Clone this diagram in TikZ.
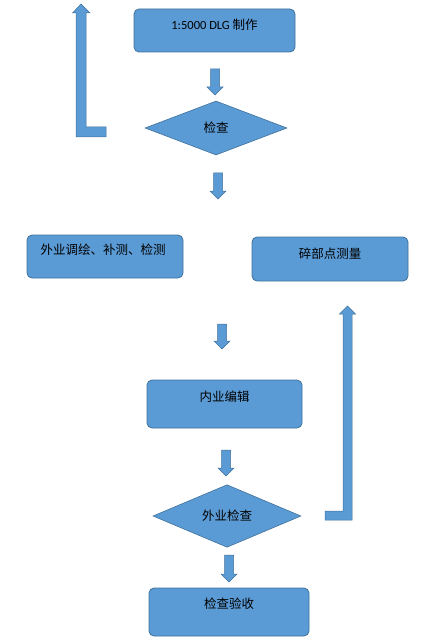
\documentclass[tikz,border=0pt]{standalone}
\usepackage{fontspec}
\setmainfont{Noto Sans CJK SC}
\newfontfamily\latinfont{Carlito}
\usetikzlibrary{shapes.geometric}
\definecolor{boxfill}{HTML}{5B9BD5}
\definecolor{boxline}{HTML}{41719C}
\tikzset{
  flowbox/.style={draw=boxline, fill=boxfill, line width=0.8pt, rounded corners=5pt, inner sep=0pt},
  decision/.style={diamond, draw=boxline, fill=boxfill, line width=0.6pt, inner sep=0pt},
  blockarrow/.style={draw=boxline, fill=boxfill, line width=0.5pt},
  lbl/.style={font=\fontsize{12.5}{14}\selectfont, text=black}
}
\newcommand\downblock[3]{%
  \filldraw[blockarrow] (#1-4.5,#2) -- (#1+4.5,#2) -- (#1+4.5,#3-8) -- (#1+8,#3-8) -- (#1,#3) -- (#1-8,#3-8) -- (#1-4.5,#3-8) -- cycle;}
\begin{document}
\begin{tikzpicture}[x=1pt,y=-1pt]
\useasboundingbox (0,0) rectangle (436,639);
% boxes
\node[flowbox, minimum width=161pt, minimum height=43pt, label={[lbl, yshift=5.5pt]center:{\latinfont 1:5000 DLG }制作}] (b1) at (214.5,30.5) {};
\node[decision, minimum width=142pt, minimum height=54pt, lbl] (d1) at (216,128) {检查};
\node[flowbox, minimum width=156pt, minimum height=43pt, label={[lbl, xshift=-2pt, yshift=6.5pt]center:外业调绘、补测、检测}] (b2) at (105,256.5) {};
\node[flowbox, minimum width=156pt, minimum height=44pt, label={[lbl, yshift=5pt]center:碎部点测量}] (b3) at (330,259) {};
\node[flowbox, minimum width=155pt, minimum height=48pt, label={[lbl, yshift=7pt]center:内业编辑}] (b4) at (224.5,404) {};
\node[decision, minimum width=148pt, minimum height=58pt, lbl] (d2) at (227,516) {\raisebox{2pt}{外业检查}};
\node[flowbox, minimum width=160pt, minimum height=48pt, label={[lbl, yshift=8pt]center:检查验收}] (b5) at (229,612) {};
% down block arrows
\downblock{215}{69}{95}
\downblock{218}{173}{199}
\downblock{222}{324}{349}
\downblock{226}{450}{476}
\downblock{229}{555}{582}
% left L-shaped arrow
\filldraw[blockarrow] (106,127) -- (86,127) -- (86,13) -- (90,13) -- (81,4) -- (72.5,13) -- (76,13) -- (76,137) -- (106,137) -- cycle;
% right L-shaped arrow
\filldraw[blockarrow] (325,511) -- (343,511) -- (343,314) -- (339.5,314) -- (347.5,306) -- (355.5,314) -- (352,314) -- (352,520) -- (325,520) -- cycle;
\end{tikzpicture}
\end{document}
